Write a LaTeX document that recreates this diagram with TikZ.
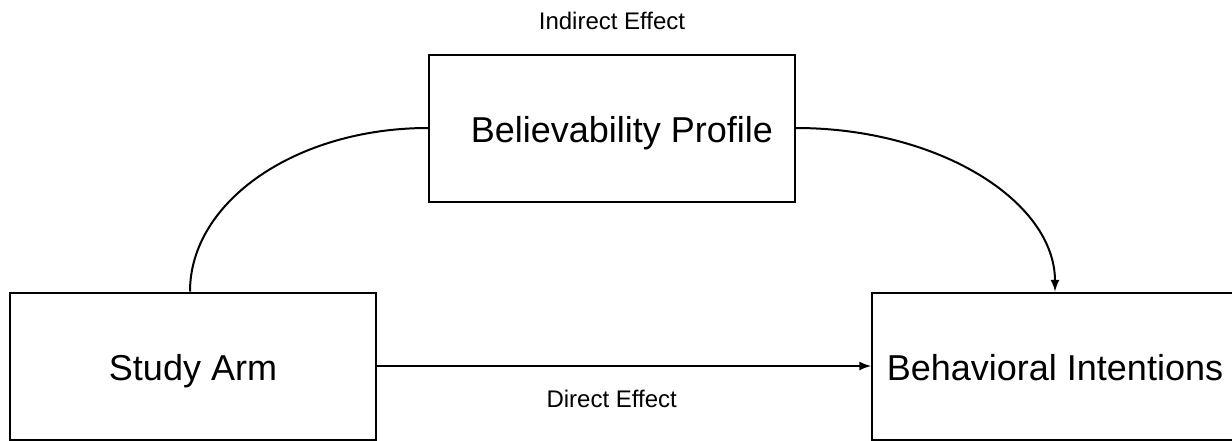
\documentclass[tikz,border=0pt]{standalone}
\usepackage{fontspec}
\setmainfont{Liberation Sans}
\usetikzlibrary{arrows,positioning,calc}
\tikzset{
  boxnode/.style={draw, line width=1pt, minimum width=183pt, minimum height=73.5pt,
    text height=18pt, text depth=4pt, font=\fontsize{18}{21}\selectfont},
  effect/.style={font=\fontsize{12}{14}\selectfont}
}

\begin{document}
\begin{tikzpicture}[x=0.5pt,y=-0.5pt,line width=1pt]
\useasboundingbox (0,0) rectangle (1232,440);
\node[boxnode] (arm) at (193,366) {Study Arm};
\node[boxnode] (profile) at (612,128) {\hspace{10pt}Believability Profile};
\node[boxnode] (intent) at (1055,366) {Behavioral Intentions};
\node[effect,above=8pt of profile] (indirect) {Indirect Effect};
\draw ($(arm.north)+(-3,0)$) .. controls +(0,-90) and +(-132,0) .. (profile.west);
\draw[arrows=-latex] (profile.east) .. controls +(143,0) and +(0,-90) .. (intent.north);
\draw[arrows=-latex] (arm.east) -- (intent.west)
    node[effect,pos=0.475,below=8pt] (direct) {Direct Effect};
\end{tikzpicture}
\end{document}
